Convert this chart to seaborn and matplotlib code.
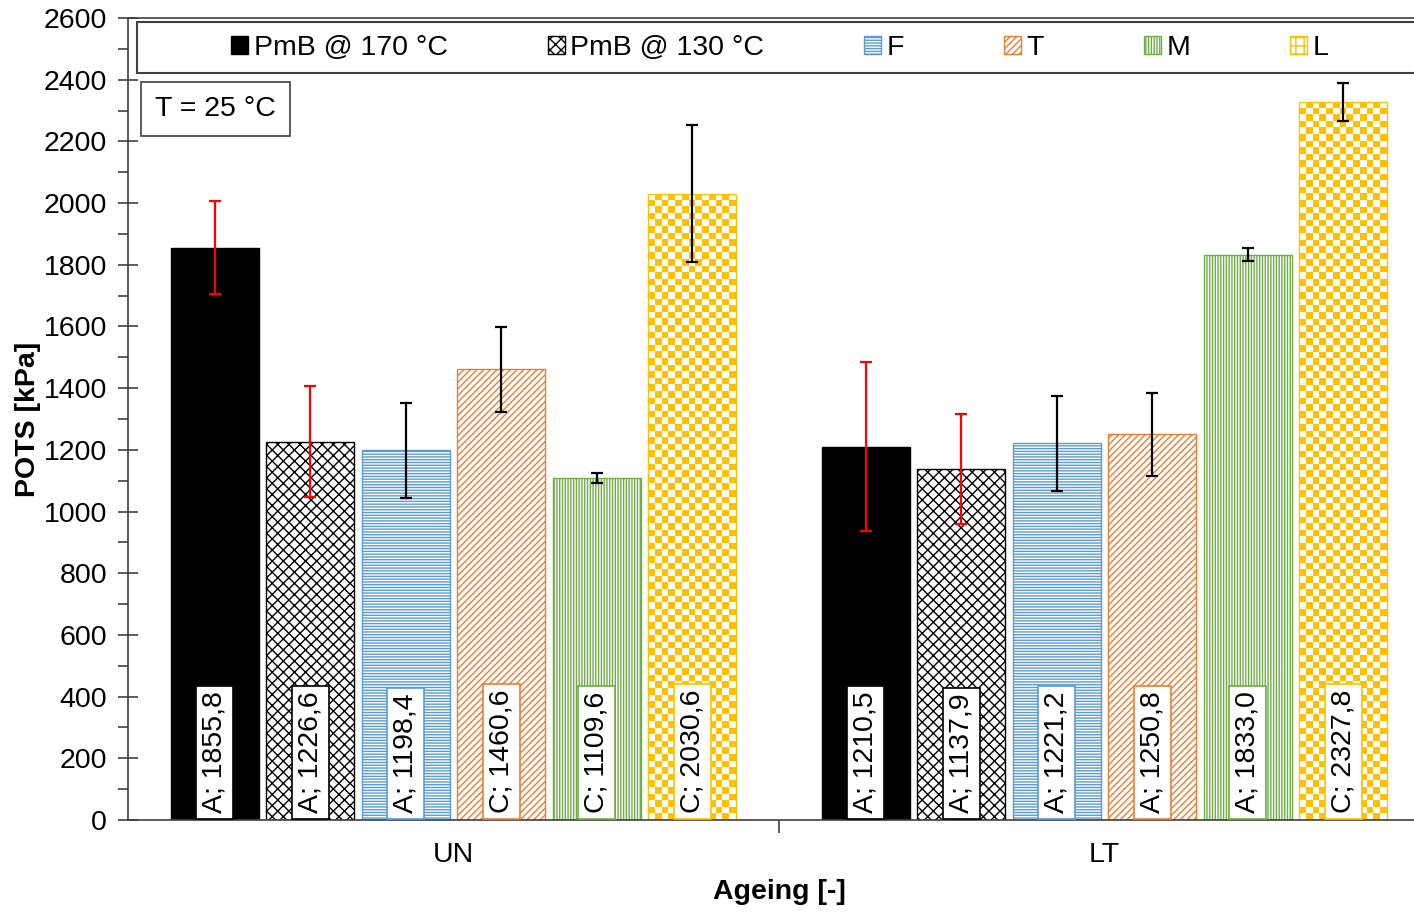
import numpy as np
import pandas as pd
import matplotlib
matplotlib.use("Agg")
import matplotlib.pyplot as plt
from matplotlib.patches import Patch, Rectangle
from matplotlib.ticker import MultipleLocator, FixedLocator
import seaborn as sns

# ---- data -------------------------------------------------------------
ageing = ["UN", "LT"]
series = ["PmB @ 170 °C", "PmB @ 130 °C", "F", "T", "M", "L"]
pots_un = [1855.8, 1226.6, 1198.4, 1460.6, 1109.6, 2030.6]
pots_lt = [1210.5, 1137.9, 1221.2, 1250.8, 1833.0, 2327.8]
err_un = [151, 180, 154, 138, 16, 223]
err_lt = [274, 178, 154, 134, 21, 61]
group_un = ["A", "A", "A", "C", "C", "C"]
group_lt = ["A", "A", "A", "A", "A", "C"]

colors = ["#000000", "#000000", "#5B9BD5", "#ED7D31", "#70AD47", "#FFC000"]
err_colors = ["#FF0000", "#FF0000", "#000000", "#000000", "#000000", "#000000"]

rows = []
for i, s in enumerate(series):
    rows.append(dict(Ageing="UN", Binder=s, POTS=pots_un[i]))
    rows.append(dict(Ageing="LT", Binder=s, POTS=pots_lt[i]))
df = pd.DataFrame(rows)

# ---- style ------------------------------------------------------------
sns.set_style("white")
plt.rcParams["font.family"] = ["Liberation Sans", "DejaVu Sans"]
plt.rcParams["hatch.linewidth"] = 1.0
for key in ["text.color", "axes.labelcolor", "xtick.labelcolor", "ytick.labelcolor"]:
    plt.rcParams[key] = "black"
FS = 20.5

W, H = 1414, 913
fig = plt.figure(figsize=(W / 100, H / 100), dpi=100)
AX_L, AX_R, AX_T, AX_B = 128, 1430, 18, 820
ax = fig.add_axes([AX_L / W, 1 - AX_B / H, (AX_R - AX_L) / W, (AX_B - AX_T) / H])


def ax_frac(px, py):
    """Pixel position (from top-left of the figure) to axes fraction."""
    return (px - AX_L) / (AX_R - AX_L), (AX_B - py) / (AX_B - AX_T)


sns.barplot(data=df, x="Ageing", y="POTS", hue="Binder", order=ageing,
            hue_order=series, palette=colors, errorbar=None,
            width=0.88, gap=0.08, ax=ax, legend=False, saturation=1)

ax.set_xlim(-0.5, 1.5)
ax.set_ylim(0, 2600)

fills = ["#000000", "white", "white", "white", "white", "white"]
hatches = [None, "xxx", "------", "/////", "||||||", None]
vals = [pots_un, pots_lt]
errs = [err_un, err_lt]
grps = [group_un, group_lt]

bar_conts = list(ax.containers)
fig.canvas.draw()
for si, cont in enumerate(bar_conts):
    for ci, bar in enumerate(cont.patches):
        bar.set_facecolor(fills[si])
        bar.set_edgecolor(colors[si])
        bar.set_linewidth(1.0)
        if hatches[si]:
            bar.set_hatch(hatches[si])
        x = bar.get_x() + bar.get_width() / 2
        v = vals[ci][si]
        if si == 5:
            # checkerboard texture clipped to the bar outline
            (x0, y0), (x1, y1) = ax.transData.transform(
                [(bar.get_x(), 0), (bar.get_x() + bar.get_width(), v)])
            ncol = max(1, int(round((x1 - x0) / 6.6)))
            nrow = max(1, int(round((y1 - y0) / 6.6)))
            chk = np.add.outer(np.arange(nrow), np.arange(ncol)) % 2
            rgba = np.ones((nrow, ncol, 4))
            rgba[chk == 1] = matplotlib.colors.to_rgba(colors[si])
            im = ax.imshow(rgba, extent=[bar.get_x(), bar.get_x() + bar.get_width(), 0, v],
                           aspect="auto", interpolation="nearest",
                           zorder=bar.get_zorder() + 0.05)
            im.set_clip_path(bar)
            bar.set_zorder(bar.get_zorder() + 0.1)
            bar.set_facecolor("none")
        ax.errorbar(x, v, yerr=errs[ci][si], fmt="none", ecolor=err_colors[si],
                    elinewidth=1.6, capsize=4, capthick=1.6, zorder=5)
        ax.text(x, 22, f"{grps[ci][si]}; {v:.1f}".replace(".", ","), rotation=90,
                ha="center", va="bottom", fontsize=FS, zorder=6, color="black",
                bbox=dict(boxstyle="square,pad=0.2", fc="white",
                          ec=colors[si], lw=1.2))

ax.set_xlim(-0.5, 1.5)
ax.set_ylim(0, 2600)

# ---- axes -------------------------------------------------------------
for side in ["left", "bottom", "top"]:
    ax.spines[side].set_visible(True)
    ax.spines[side].set_color("#404040")
    ax.spines[side].set_linewidth(1.2)
ax.spines["right"].set_visible(False)

ax.yaxis.set_major_locator(MultipleLocator(200))
ax.yaxis.set_minor_locator(MultipleLocator(100))
ax.tick_params(axis="y", which="major", direction="inout", length=14, width=1.2,
               color="#404040", labelcolor="black", labelsize=FS, pad=8, left=True)
ax.tick_params(axis="y", which="minor", direction="out", length=7, width=1.2,
               color="#404040", left=True)
ax.set_xticks([0, 1])
ax.set_xticklabels(ageing)
ax.xaxis.set_minor_locator(FixedLocator([0.5]))
ax.tick_params(axis="x", which="major", length=0, labelsize=FS, labelcolor="black", pad=16)
ax.tick_params(axis="x", which="minor", direction="out", length=9, width=1.2,
               color="#404040", bottom=True)

ax.set_ylabel("POTS [kPa]", fontsize=FS, fontweight="bold", labelpad=2, color="black")
ax.set_xlabel("Ageing [-]", fontsize=FS, fontweight="bold", labelpad=8, color="black")

# ---- legend -----------------------------------------------------------
handles = []
for si, s in enumerate(series):
    if si == 5:
        handles.append(Patch(facecolor="white", edgecolor=colors[si], hatch="++", label=s))
    else:
        handles.append(Patch(facecolor=fills[si], edgecolor=colors[si],
                             hatch=hatches[si] if si > 0 else None, label=s))
lx, ly = ax_frac(780, 48)
leg = ax.legend(handles=handles, ncol=6, loc="center",
                bbox_to_anchor=(lx, ly), fontsize=FS, frameon=False,
                handlelength=0.6, handleheight=0.6, handletextpad=0.2,
                columnspacing=3.5, borderpad=0.0, borderaxespad=0)
for t in leg.get_texts():
    t.set_color("black")
bx0, by0 = ax_frac(137, 73)
bx1, by1 = ax_frac(1421, 22)
ax.add_patch(Rectangle((bx0, by0), bx1 - bx0, by1 - by0, transform=ax.transAxes,
                       fc="white", ec="#404040", lw=1.5, zorder=7, clip_on=False))
leg.set_zorder(8)

tx, ty = ax_frac(155, 96)
ax.text(tx, ty, "T = 25 °C", transform=ax.transAxes, fontsize=FS,
        ha="left", va="top", zorder=8, color="black",
        bbox=dict(boxstyle="square,pad=0.48", fc="white", ec="#404040", lw=1.2))

fig.savefig("out.png", dpi=100)
